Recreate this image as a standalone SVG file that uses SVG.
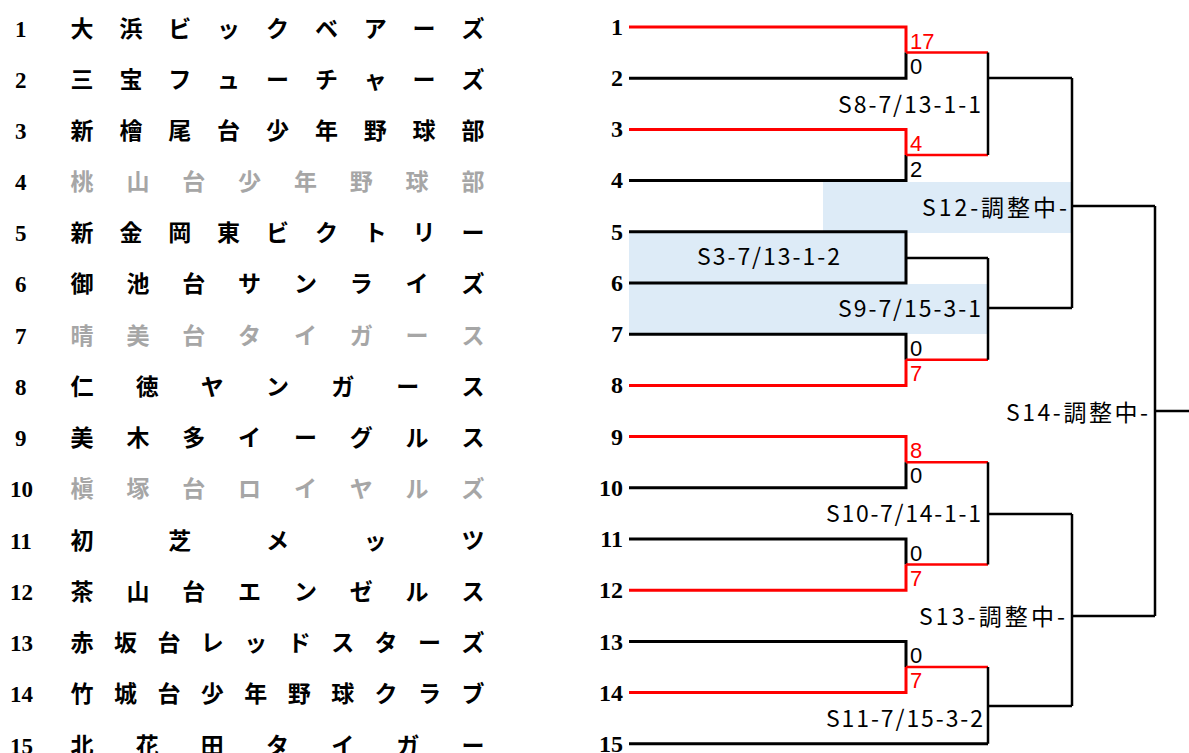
<svg xmlns="http://www.w3.org/2000/svg" width="1189" height="753" viewBox="0 0 1189 753">
<style>
.num{font-family:"Liberation Serif","Noto Sans CJK JP",serif;font-weight:bold;font-size:23px;fill:#000}
.bn{font-family:"Liberation Serif","Noto Sans CJK JP",serif;font-weight:bold;font-size:24px;fill:#000;text-anchor:end}
.nm{font-family:"Noto Sans CJK JP","Noto Sans CJK SC",sans-serif;font-weight:bold;font-size:23px;fill:#000;text-anchor:middle}
.gray{fill:#a6a6a6}
.lb{font-family:"Noto Sans CJK JP","Noto Sans CJK SC",sans-serif;font-size:23px;fill:#000}
.sc{font-family:"Liberation Sans","Noto Sans CJK JP",sans-serif;font-size:22px;fill:#000}
.red{fill:#ff0000}
.bx{fill:#ddebf7}
.k{stroke:#000;stroke-width:2.5;fill:none}
.r{stroke:#ff0000;stroke-width:2.5;fill:none}
.t{stroke-width:3}
</style>
<rect width="1189" height="753" fill="#fff"/>

<!-- shaded boxes -->
<g id="boxes">
<rect class="bx" x="823" y="182" width="249" height="51"/>
<rect class="bx" x="629" y="233" width="277" height="50"/>
<rect class="bx" x="629" y="284" width="359" height="50"/>
</g>

<!-- team list -->
<g id="team1"><text class="num" x="15" y="37">1</text>
<text class="nm" x="82 130.9 179.8 228.6 277.5 326.4 375.3 424.1 473" y="37">大浜ビックベアーズ</text><text class="bn" x="623" y="35">1</text></g>
<g id="team2"><text class="num" x="15" y="88">2</text>
<text class="nm" x="82 130.9 179.8 228.6 277.5 326.4 375.3 424.1 473" y="88">三宝フューチャーズ</text><text class="bn" x="623" y="86">2</text></g>
<g id="team3"><text class="num" x="15" y="139">3</text>
<text class="nm" x="82 130.9 179.8 228.6 277.5 326.4 375.3 424.1 473" y="139">新檜尾台少年野球部</text><text class="bn" x="623" y="137">3</text></g>
<g id="team4"><text class="num" x="15" y="190">4</text>
<text class="nm gray" x="82 137.9 193.7 249.6 305.4 361.3 417.1 473" y="190">桃山台少年野球部</text><text class="bn" x="623" y="188">4</text></g>
<g id="team5"><text class="num" x="15" y="241">5</text>
<text class="nm" x="82 130.9 179.8 228.6 277.5 326.4 375.3 424.1 473" y="241">新金岡東ビクトリー</text><text class="bn" x="623" y="240">5</text></g>
<g id="team6"><text class="num" x="15" y="292">6</text>
<text class="nm" x="82 137.9 193.7 249.6 305.4 361.3 417.1 473" y="292">御池台サンライズ</text><text class="bn" x="623" y="291">6</text></g>
<g id="team7"><text class="num" x="15" y="344">7</text>
<text class="nm gray" x="82 137.9 193.7 249.6 305.4 361.3 417.1 473" y="344">晴美台タイガース</text><text class="bn" x="623" y="342">7</text></g>
<g id="team8"><text class="num" x="15" y="395">8</text>
<text class="nm" x="82 147.2 212.3 277.5 342.7 407.8 473" y="395">仁徳ヤンガース</text><text class="bn" x="623" y="393">8</text></g>
<g id="team9"><text class="num" x="15" y="446">9</text>
<text class="nm" x="82 137.9 193.7 249.6 305.4 361.3 417.1 473" y="446">美木多イーグルス</text><text class="bn" x="623" y="445">9</text></g>
<g id="team10"><text class="num" x="10" y="497">10</text>
<text class="nm gray" x="82 137.9 193.7 249.6 305.4 361.3 417.1 473" y="497">槇塚台ロイヤルズ</text><text class="bn" x="623" y="496">10</text></g>
<g id="team11"><text class="num" x="10" y="549">11</text>
<text class="nm" x="82 179.75 277.5 375.25 473" y="549">初芝メッツ</text><text class="bn" x="623" y="547">11</text></g>
<g id="team12"><text class="num" x="10" y="600">12</text>
<text class="nm" x="82 137.9 193.7 249.6 305.4 361.3 417.1 473" y="600">茶山台エンゼルス</text><text class="bn" x="623" y="598">12</text></g>
<g id="team13"><text class="num" x="10" y="651">13</text>
<text class="nm" x="82 125.4 168.9 212.3 255.8 299.2 342.7 386.1 429.6 473" y="651">赤坂台レッドスターズ</text><text class="bn" x="623" y="650">13</text></g>
<g id="team14"><text class="num" x="10" y="702">14</text>
<text class="nm" x="82 125.4 168.9 212.3 255.8 299.2 342.7 386.1 429.6 473" y="702">竹城台少年野球クラブ</text><text class="bn" x="623" y="701">14</text></g>
<g id="team15"><text class="num" x="10" y="754">15</text>
<text class="nm" x="82 147.2 212.3 277.5 342.7 407.8 473" y="754">北花田タイガー</text><text class="bn" x="623" y="752">15</text></g>

<!-- connectors -->
<g id="connectors">
<path class="r t" d="M629 27H906V52.6"/>
<path class="k t" d="M629 78.2H906V52.6"/>
<path class="r t" d="M629 129.4H906V155"/>
<path class="k t" d="M629 180.6H906V155"/>
<path class="k t" d="M629 231.8H906V283H629"/>
<path class="k t" d="M629 334.2H906V359.8"/>
<path class="r t" d="M629 385.4H906V359.8"/>
<path class="r t" d="M629 436.6H906V462.2"/>
<path class="k t" d="M629 487.8H906V462.2"/>
<path class="k t" d="M629 539H906V564.6"/>
<path class="r t" d="M629 590.2H906V564.6"/>
<path class="k t" d="M629 641.4H906V667"/>
<path class="r t" d="M629 692.6H906V667"/>
<path class="k t" d="M629 743.8H988"/>
<path class="r" d="M906 52.6H988"/>
<path class="r" d="M906 155H988"/>
<path class="k" d="M906 258H988"/>
<path class="r" d="M906 359.8H988"/>
<path class="r" d="M906 462.2H988"/>
<path class="r" d="M906 564.6H988"/>
<path class="r" d="M906 667H988"/>
<path class="k" d="M988 52.6V155M988 78H1072"/>
<path class="k" d="M988 258V359.8M988 308H1072"/>
<path class="k" d="M988 462.2V564.6M988 514H1072"/>
<path class="k" d="M988 667V743.8M988 706H1072"/>
<path class="k" d="M1072 78V308M1072 206H1155"/>
<path class="k" d="M1072 514V706M1072 616H1155"/>
<path class="k" d="M1155 206V616M1155 411H1189"/>
</g>

<!-- scores -->
<g id="scores">
<text class="sc red" x="910" y="49">17</text>
<text class="sc" x="910" y="74">0</text>
<text class="sc red" x="910" y="151">4</text>
<text class="sc" x="910" y="177">2</text>
<text class="sc" x="910" y="356">0</text>
<text class="sc red" x="910" y="381">7</text>
<text class="sc red" x="910" y="458">8</text>
<text class="sc" x="910" y="483">0</text>
<text class="sc" x="910" y="561">0</text>
<text class="sc red" x="910" y="586">7</text>
<text class="sc" x="910" y="663">0</text>
<text class="sc red" x="910" y="688">7</text>
</g>

<!-- match labels -->
<g id="m-S8"><text class="lb" x="838" y="113" textLength="143">S8-7/13-1-1</text></g>
<g id="m-S12"><text class="lb" x="922" y="216" textLength="145">S12-調整中-</text></g>
<g id="m-S3"><text class="lb" x="697" y="265" textLength="143">S3-7/13-1-2</text></g>
<g id="m-S9"><text class="lb" x="838" y="317" textLength="143">S9-7/15-3-1</text></g>
<g id="m-S14"><text class="lb" x="1006" y="421" textLength="142">S14-調整中-</text></g>
<g id="m-S10"><text class="lb" x="826" y="522" textLength="155">S10-7/14-1-1</text></g>
<g id="m-S13"><text class="lb" x="919" y="625" textLength="146">S13-調整中-</text></g>
<g id="m-S11"><text class="lb" x="826" y="727" textLength="157">S11-7/15-3-2</text></g>
</svg>
